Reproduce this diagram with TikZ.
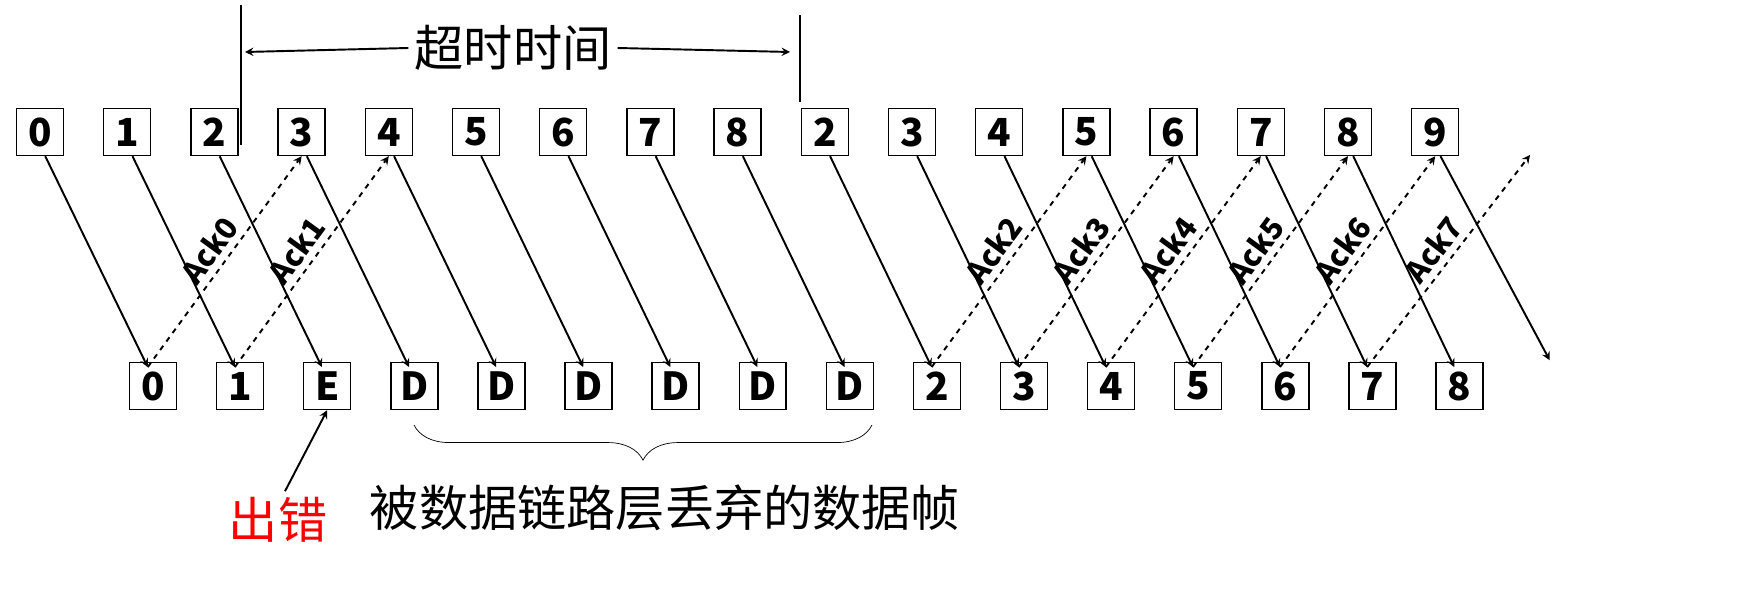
\documentclass[tikz,border=0pt]{standalone}
\usepackage{fontspec}
\setmainfont{Noto Sans CJK SC}
\usetikzlibrary{decorations.pathreplacing}
\begin{document}
\begin{tikzpicture}[x=0.02cm,y=-0.02cm]
\tikzstyle{frame}=[draw,thick,minimum width=0.94cm,minimum height=0.94cm,inner sep=0pt,font=\bfseries\fontsize{22}{22}\selectfont]
\tikzstyle{data}=[->,>=stealth,line width=1.1pt]
\tikzstyle{ack}=[->,>=stealth,line width=1.1pt,dashed]
% sender
\foreach \l [count=\i from 0] in {0,1,2,3,4,5,6,7,8,2,3,4,5,6,7,8,9}
  \path (40+87.2*\i,132) node[frame] (t\i) {\l};
% receiver
\foreach \l [count=\i from 0] in {0,1,E,D,D,D,D,D,D,2,3,4,5,6,7,8}
  \path (153+87.1*\i,386) node[frame] (b\i) {\l};
\coordinate (t17) at (1530,155);
\coordinate (b16) at (1555,355);
% data frames
\foreach \i in {0,...,16}
  \draw[data] ([xshift=3pt]t\i.south) -- ([xshift=-3pt,yshift=-3pt]b\i.north);
% acks
\foreach \i/\j/\n in {0/3/0,1/4/1,9/12/2,10/13/3,11/14/4,12/15/5,13/16/6,14/17/7}
  \draw[ack] ([xshift=-3pt,yshift=-3pt]b\i.north) -- (t\j.south)
    node[pos=0.5,sloped,above,font=\bfseries\fontsize{17}{17}\selectfont] {Ack\n};
% timeout
\draw[line width=1.1pt] (241,5) -- (241,145);
\draw[line width=1.1pt] (800,15) -- (800,102);
\node[font=\fontsize{28}{28}\selectfont] (to) at (513,48) {超时时间};
\draw[data] (to.west) -- (245,52);
\draw[data] (to.east) -- (790,52);
% discarded
\draw[decorate,decoration={brace,mirror,amplitude=20pt}] (414,425) -- (872,425);
\node[font=\fontsize{28}{28}\selectfont] (drop) at (665,508) {被数据链路层丢弃的数据帧};
\node[red,font=\fontsize{28}{28}\selectfont] (err) at (278,520) {出错};
\draw[data] ([xshift=4pt]err.north) -- (b2.south);
\pgfresetboundingbox
\useasboundingbox (0,0) rectangle (1756,614);
\end{tikzpicture}
\end{document}
